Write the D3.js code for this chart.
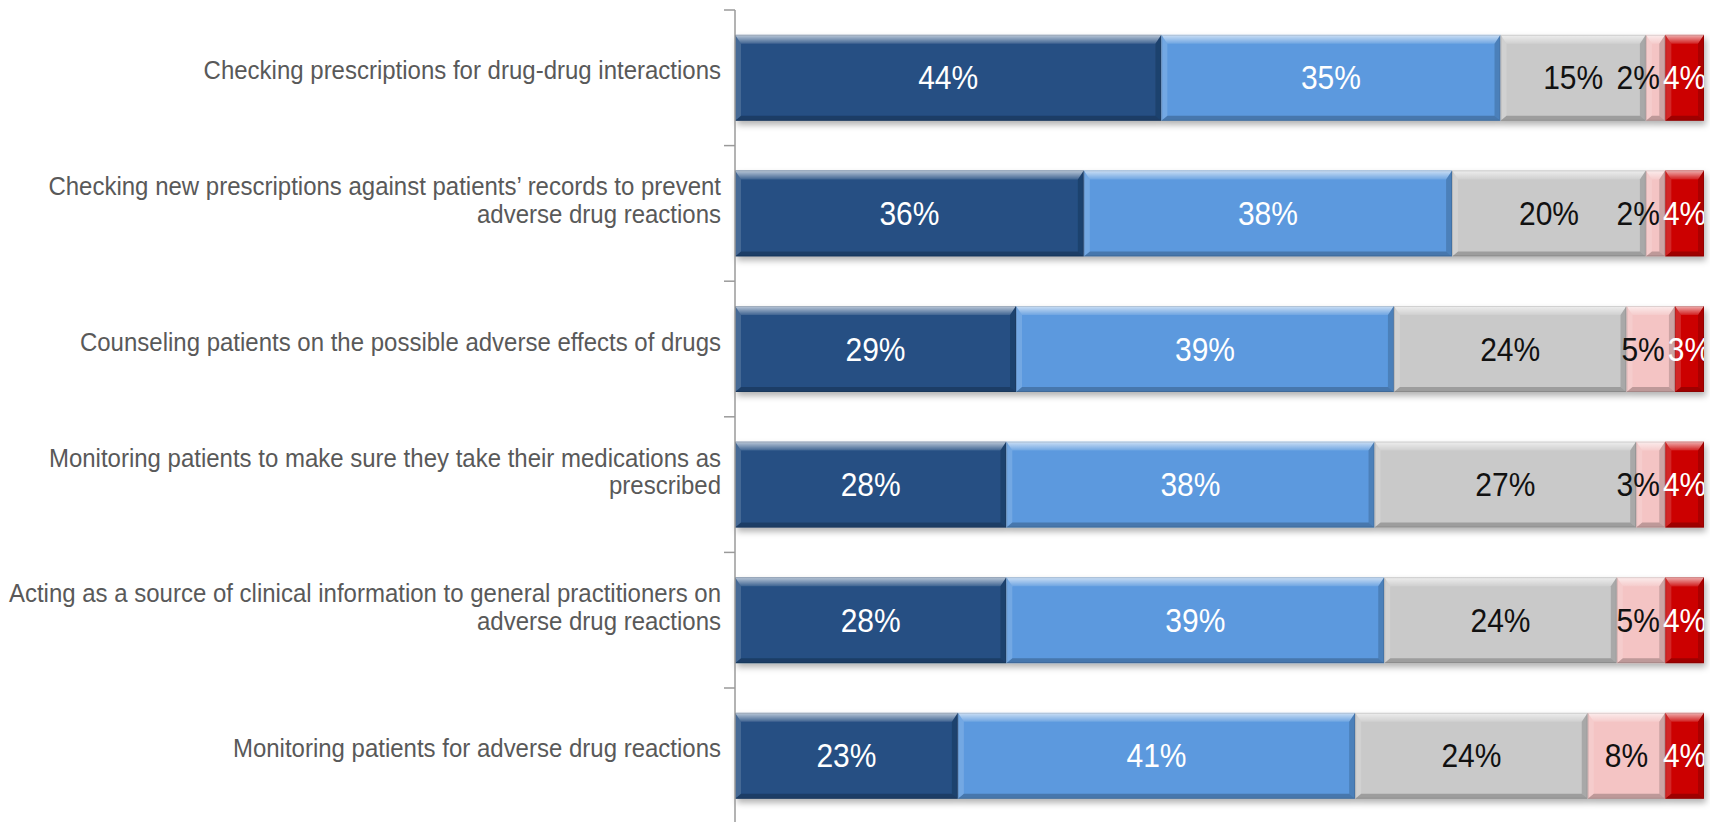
<!DOCTYPE html>
<html>
<head>
<meta charset="utf-8">
<script src="https://cdn.jsdelivr.net/npm/d3@7/dist/d3.min.js"></script>
<style>
  html, body { margin: 0; padding: 0; background: #fff; }
  svg { display: block; }
</style>
</head>
<body>
<svg id="chart" width="1710" height="822"></svg>
<script>
// Survey items (line breaks where the label wraps)
const categories = [
  "Checking prescriptions for drug-drug interactions",
  "Checking new prescriptions against patients\u2019 records to prevent\nadverse drug reactions",
  "Counseling patients on the possible adverse effects of drugs",
  "Monitoring patients to make sure they take their medications as\nprescribed",
  "Acting as a source of clinical information to general practitioners on\nadverse drug reactions",
  "Monitoring patients for adverse drug reactions"
];

// Response shares (%) per item, from left to right in each bar
const level1 = [44, 36, 29, 28, 28, 23];
const level2 = [35, 38, 39, 38, 39, 41];
const level3 = [15, 20, 24, 27, 24, 24];
const level4 = [2, 2, 5, 3, 5, 8];
const level5 = [4, 4, 3, 4, 4, 4];

const seriesValues = [level1, level2, level3, level4, level5];
const seriesColors = ["#254F83", "#5B99DE", "#C9C9C9", "#F4C4C4", "#CC0000"];
const labelColors  = ["#ffffff", "#ffffff", "#111111", "#111111", "#ffffff"];

const svg = d3.select("#chart");
const W = 1710, H = 822;
const axisX = 735, plotRight = 1704;
const yTop = 10, yBottom = 823.6;
const textStretch = 1.08;

// Stacked table built from the arrays
const rows = categories.map((c, i) => {
  let acc = 0;
  return {
    cat: c,
    segs: seriesValues.map((vals, s) => {
      const seg = { s, v: vals[i], x0: acc, x1: acc + vals[i] };
      acc += vals[i];
      return seg;
    })
  };
});

const x = d3.scaleLinear().domain([0, 100]).range([axisX, plotRight]);
const y = d3.scaleBand().domain(categories).range([yTop, yBottom])
  .paddingInner(0.366).paddingOuter(0.183);

const defs = svg.append("defs");
const shadow = defs.append("filter").attr("id", "shadow")
  .attr("x", "-5%").attr("y", "-20%").attr("width", "110%").attr("height", "150%");
shadow.append("feDropShadow").attr("dx", 2).attr("dy", 4)
  .attr("stdDeviation", 3).attr("flood-color", "#000").attr("flood-opacity", 0.3);

const topGrad = defs.append("linearGradient").attr("id", "topGrad")
  .attr("x1", 0).attr("y1", 0).attr("x2", 0).attr("y2", 1);
topGrad.append("stop").attr("offset", "0%").attr("stop-color", "#fff").attr("stop-opacity", 0.7);
topGrad.append("stop").attr("offset", "100%").attr("stop-color", "#fff").attr("stop-opacity", 0.12);

defs.append("clipPath").attr("id", "plotClip")
  .append("rect").attr("x", axisX).attr("y", 0).attr("width", plotRight - axisX).attr("height", H);

// Bars with bevelled edges
const barsG = svg.append("g");
rows.forEach(r => {
  const y0 = y(r.cat), bh = y.bandwidth(), y1 = y0 + bh;
  const rowG = barsG.append("g").attr("filter", "url(#shadow)");
  r.segs.forEach(d => {
    const a = x(d.x0), b = x(d.x1);
    const w = b - a;
    const bt = Math.min(9, w / 2), bb = Math.min(5, w / 2), bs = Math.min(6, w / 2);
    const g = rowG.append("g");
    g.append("rect").attr("x", a).attr("y", y0).attr("width", w).attr("height", bh)
      .attr("fill", seriesColors[d.s]);
    const poly = (pts, fill, op) => g.append("polygon")
      .attr("points", pts.map(p => p.join(",")).join(" "))
      .attr("fill", fill).attr("fill-opacity", op);
    poly([[a, y0], [b, y0], [b - bs, y0 + bt], [a + bs, y0 + bt]], "url(#topGrad)", 1);
    poly([[a, y1], [b, y1], [b - bs, y1 - bb], [a + bs, y1 - bb]], "#000", 0.22);
    poly([[a, y0], [a + bs, y0 + bt], [a + bs, y1 - bb], [a, y1]], "#fff", 0.15);
    poly([[b, y0], [b - bs, y0 + bt], [b - bs, y1 - bb], [b, y1]], "#000", 0.16);
    g.append("rect").attr("x", a + 0.5).attr("y", y0 + 0.5).attr("width", w - 1).attr("height", bh - 1)
      .attr("fill", "none").attr("stroke", "#000").attr("stroke-opacity", 0.12);
  });
});

// Value labels, centred in each segment and clipped to the plot area;
// a label that would run into its right-hand neighbour is nudged left.
const valG = svg.append("g").attr("clip-path", "url(#plotClip)");
rows.forEach(r => {
  const cy = y(r.cat) + y.bandwidth() / 2;
  const labels = r.segs.map(d => {
    const t = valG.append("text")
      .attr("text-anchor", "middle")
      .attr("font-family", "'Liberation Sans', Arial, sans-serif")
      .attr("font-size", 30)
      .attr("fill", labelColors[d.s])
      .text(d.v + "%");
    return { t, cx: (x(d.x0) + x(d.x1)) / 2, w: t.node().getComputedTextLength() };
  });
  for (let k = labels.length - 2; k >= 0; k--) {
    const cur = labels[k], next = labels[k + 1];
    const overlap = (cur.cx + cur.w / 2) - (next.cx - next.w / 2) + 3;
    if (overlap > 0) cur.cx -= overlap;
  }
  labels.forEach(l => l.t.attr("transform", `translate(${l.cx},${cy + 11.5}) scale(1,${textStretch})`));
});

// Category axis: line and tick marks between bands
const axisG = svg.append("g");
axisG.append("line").attr("x1", axisX).attr("x2", axisX).attr("y1", yTop).attr("y2", H)
  .attr("stroke", "#9a9a9a").attr("stroke-width", 1.5);
const step = y.step();
d3.range(categories.length + 1).forEach(k => {
  const ty = yTop + k * step;
  axisG.append("line").attr("x1", axisX - 11).attr("x2", axisX).attr("y1", ty).attr("y2", ty)
    .attr("stroke", "#9a9a9a").attr("stroke-width", 1.5);
});

// Category labels, right-aligned left of the axis
const lineH = 27.6;
const catG = svg.append("g");
categories.forEach(c => {
  const lines = c.split("\n");
  const cy = y(c) + y.bandwidth() / 2;
  const base = cy + 1.5 - (lines.length - 1) * 19.5;
  lines.forEach((t, i) => {
    catG.append("text")
      .attr("transform", `translate(721,${base + i * lineH}) scale(1,${textStretch})`)
      .attr("text-anchor", "end")
      .attr("font-family", "'Liberation Sans', Arial, sans-serif")
      .attr("font-size", 24)
      .attr("fill", "#595959")
      .text(t);
  });
});
</script>
</body>
</html>
